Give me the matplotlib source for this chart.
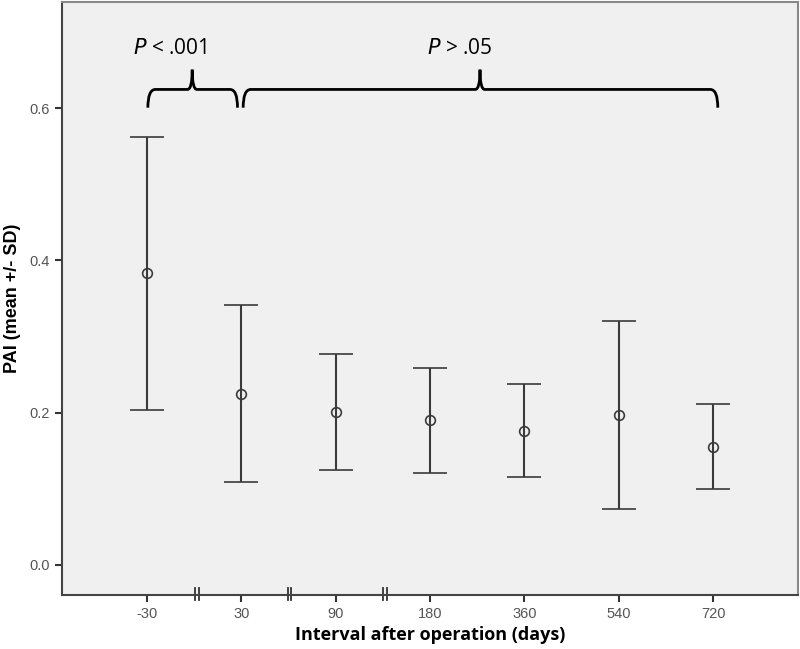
import matplotlib.pyplot as plt
from matplotlib.path import Path
from matplotlib.patches import PathPatch
import matplotlib.transforms as mtransforms

# data
days = ['-30', '30', '90', '180', '360', '540', '720']
pai_mean = [0.383, 0.225, 0.201, 0.190, 0.176, 0.197, 0.155]
pai_upper = [0.562, 0.342, 0.277, 0.258, 0.237, 0.321, 0.211]
pai_lower = [0.204, 0.108, 0.125, 0.121, 0.115, 0.073, 0.100]
y_ticks = [0.0, 0.2, 0.4, 0.6]

plt.rcParams['font.family'] = ['Open Sans', 'DejaVu Sans']

fig = plt.figure(figsize=(8, 6.49), dpi=100)
ax = fig.add_axes([0.0775, 0.0832, 0.92, 0.9137])
ax.set_facecolor('#f0f0f0')

x = list(range(len(days)))
err_lo = [m - lo for m, lo in zip(pai_mean, pai_lower)]
err_hi = [hi - m for m, hi in zip(pai_mean, pai_upper)]
ax.errorbar(x, pai_mean, yerr=[err_lo, err_hi], fmt='o', mfc='none',
            mec='#3a3a3a', ms=7, mew=1.2, ecolor='#3a3a3a', elinewidth=1.5,
            capsize=12, capthick=1.5)

ax.set_xlim(-0.9, 6.9)
ax.set_ylim(-0.04, 0.74)
ax.set_xticks(x)
ax.set_xticklabels(days, family='Liberation Sans')
ax.set_yticks(y_ticks)
ax.set_yticklabels([f'{v:.1f}' for v in y_ticks], family='Liberation Sans')
ax.tick_params(axis='both', colors='#333333', labelcolor='#555555',
               labelsize=10.5, length=5, width=1.5)

for side in ['left', 'bottom']:
    ax.spines[side].set_color('#444444')
    ax.spines[side].set_linewidth(1.5)
for side in ['top', 'right']:
    ax.spines[side].set_color('#888888')
    ax.spines[side].set_linewidth(1.5)

# axis break marks
trans = mtransforms.blended_transform_factory(ax.transData, ax.transAxes)
for xb in [0.53, 1.51, 2.52]:
    for off in [-0.02, 0.02]:
        ax.plot([xb + off, xb + off], [-0.008, 0.012], color='#333333',
                lw=1.3, transform=trans, clip_on=False)

ax.set_xlabel('Interval after operation (days)', fontsize=13, fontweight='bold',
              labelpad=4)
ax.set_ylabel('PAI (mean +/- SD)', fontsize=13, fontweight='bold', labelpad=6,
              family='Liberation Sans')


def brace(x0, x1, xc, y_end, y_mid, y_tip, dx=0.08, dc=0.05):
    verts = [
        (x0, y_end), (x0, y_mid), (x0 + dx, y_mid),
        (xc - dc, y_mid), (xc, y_mid), (xc, y_tip),
        (xc, y_mid), (xc + dc, y_mid),
        (x1 - dx, y_mid), (x1, y_mid), (x1, y_end),
    ]
    codes = [Path.MOVETO, Path.CURVE3, Path.CURVE3,
             Path.LINETO, Path.CURVE3, Path.CURVE3,
             Path.CURVE3, Path.CURVE3,
             Path.LINETO, Path.CURVE3, Path.CURVE3]
    ax.add_patch(PathPatch(Path(verts, codes), fill=False, lw=2, color='black'))


brace(0.01, 0.96, 0.48, 0.601, 0.625, 0.651)
brace(1.02, 6.05, 3.53, 0.601, 0.625, 0.651)

ax.text(0.25, 0.665, r'$\it{P}$ < .001', fontsize=15, ha='center', va='bottom')
ax.text(3.32, 0.665, r'$\it{P}$ > .05', fontsize=15, ha='center', va='bottom')

fig.savefig('out.png', dpi=100, facecolor='white')
